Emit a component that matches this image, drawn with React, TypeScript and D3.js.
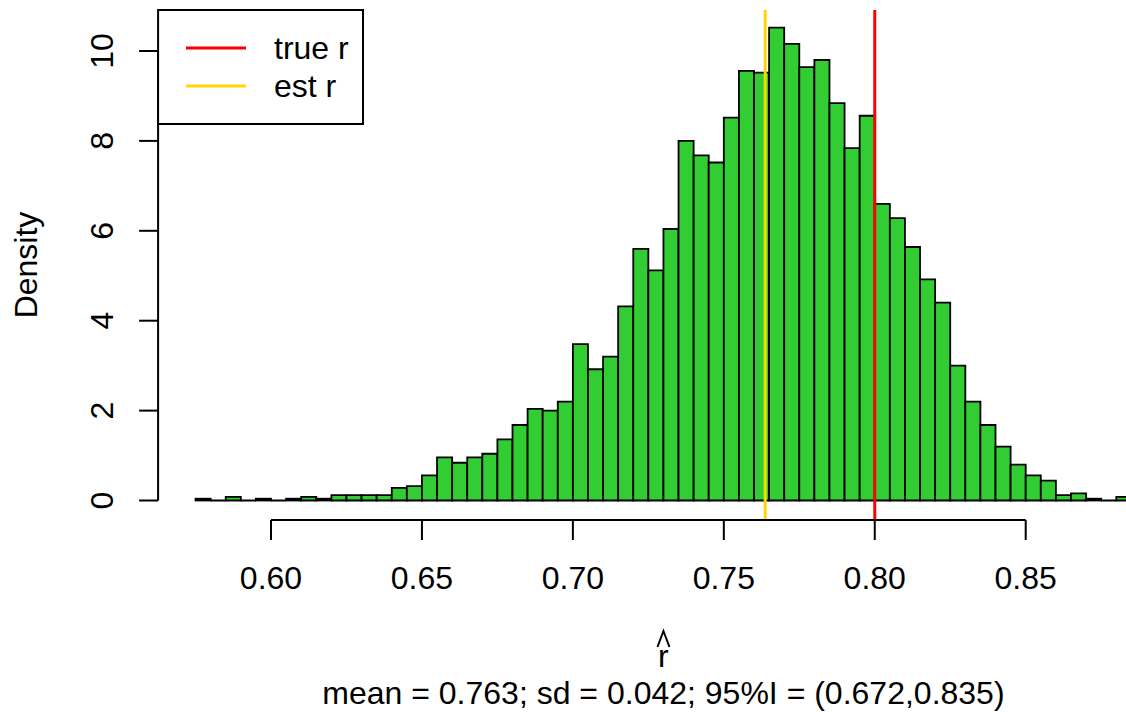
import React from "react";
import * as d3 from "d3";

const binStart = 0.575;
const binWidth = 0.005;
const densities = [
  0.04, 0, 0.08, 0, 0.04, 0, 0.04, 0.08, 0.04, 0.12,
  0.12, 0.12, 0.12, 0.28, 0.32, 0.56, 0.96, 0.84, 0.96, 1.04,
  1.36, 1.68, 2.04, 2.0, 2.2, 3.48, 2.92, 3.2, 4.32, 5.6,
  5.12, 6.04, 8.0, 7.68, 7.52, 8.52, 9.56, 9.52, 10.52, 10.16,
  9.64, 9.8, 8.84, 7.84, 8.56, 6.6, 6.28, 5.64, 4.92, 4.4,
  3.0, 2.2, 1.68, 1.2, 0.8, 0.56, 0.44, 0.12, 0.16, 0.04,
  0, 0.08,
];
const xTicks = [0.6, 0.65, 0.7, 0.75, 0.8, 0.85];
const yTicks = [0, 2, 4, 6, 8, 10];
const trueR = 0.8;
const estR = 0.7637;
const legendItems = [
  { label: "true r", color: "#FF0000" },
  { label: "est r", color: "#FFD700" },
];
const subtitle = "mean = 0.763; sd = 0.042; 95%I = (0.672,0.835)";

const W = 1126;
const H = 712;
const FONT = "'Liberation Sans', Arial, Helvetica, sans-serif";
const FS = 32;

export default function App() {
  const x = d3.scaleLinear().domain([0.6, 0.85]).range([271, 1025.7]);
  const y = d3.scaleLinear().domain([0, 10]).range([500.5, 51]);
  const plotLeft = x(0.5626);
  const plotRight = x(0.8974);
  const plotTop = 10;
  const plotBottom = 520;
  const cx = (plotLeft + plotRight) / 2;

  const bins = densities.map((d, i) => ({
    x0: binStart + i * binWidth,
    x1: binStart + (i + 1) * binWidth,
    d,
  }));

  return (
    <svg
      width={W}
      height={H}
      style={{ position: "fixed", left: 0, top: 0, display: "block", background: "#fff" }}
      fontFamily={FONT}
    >
      <rect x={0} y={0} width={W} height={H} fill="#fff" />
      {/* bars */}
      {bins.map((b, i) => {
        const x0 = x(b.x0);
        const x1 = x(b.x1);
        const y0 = y(0);
        const yt = y(b.d);
        return (
          <path
            key={i}
            d={`M${x0},${y0}V${yt}H${x1}V${y0}Z`}
            fill="#32CD32"
            stroke="#000"
            strokeWidth={1.8}
            strokeLinejoin="miter"
          />
        );
      })}
      {/* vertical lines */}
      <line x1={x(estR)} x2={x(estR)} y1={plotTop} y2={plotBottom} stroke="#FFD700" strokeWidth={3} />
      <line x1={x(trueR)} x2={x(trueR)} y1={plotTop} y2={plotBottom} stroke="#FF0000" strokeWidth={3} />

      {/* x axis */}
      <line x1={x(xTicks[0])} x2={x(xTicks[xTicks.length - 1])} y1={plotBottom} y2={plotBottom} stroke="#000" strokeWidth={2} />
      {xTicks.map((t) => (
        <g key={t}>
          <line x1={x(t)} x2={x(t)} y1={plotBottom} y2={plotBottom + 20} stroke="#000" strokeWidth={2} />
          <text x={x(t)} y={589} textAnchor="middle" fontSize={FS} fill="#000">
            {t.toFixed(2)}
          </text>
        </g>
      ))}

      {/* y axis */}
      <line x1={plotLeft} x2={plotLeft} y1={y(10)} y2={y(0)} stroke="#000" strokeWidth={2} />
      {yTicks.map((t) => (
        <g key={t}>
          <line x1={plotLeft} x2={plotLeft - 19} y1={y(t)} y2={y(t)} stroke="#000" strokeWidth={2} />
          <text
            transform={`translate(113,${y(t)}) rotate(-90)`}
            textAnchor="middle"
            fontSize={FS}
            fill="#000"
          >
            {t}
          </text>
        </g>
      ))}
      <text
        transform={`translate(37,${(plotTop + plotBottom) / 2}) rotate(-90)`}
        textAnchor="middle"
        fontSize={FS}
        fill="#000"
      >
        Density
      </text>

      {/* x label r-hat */}
      <text x={cx} y={667} textAnchor="middle" fontSize={FS} fill="#000">
        r
      </text>
      <path
        d={`M${cx - 6},${647} L${cx},${631} L${cx + 6},${647}`}
        fill="none"
        stroke="#000"
        strokeWidth={2}
      />
      <text x={cx} y={704} textAnchor="middle" fontSize={FS} fill="#000">
        {subtitle}
      </text>

      {/* legend */}
      <rect x={plotLeft} y={plotTop} width={363 - plotLeft} height={124 - plotTop} fill="#fff" stroke="#000" strokeWidth={2} />
      {legendItems.map((it, i) => (
        <g key={it.label}>
          <line x1={186} x2={246} y1={48 + i * 38} y2={48 + i * 38} stroke={it.color} strokeWidth={3} />
          <text x={274} y={59 + i * 38} fontSize={FS} fill="#000">
            {it.label}
          </text>
        </g>
      ))}
    </svg>
  );
}
